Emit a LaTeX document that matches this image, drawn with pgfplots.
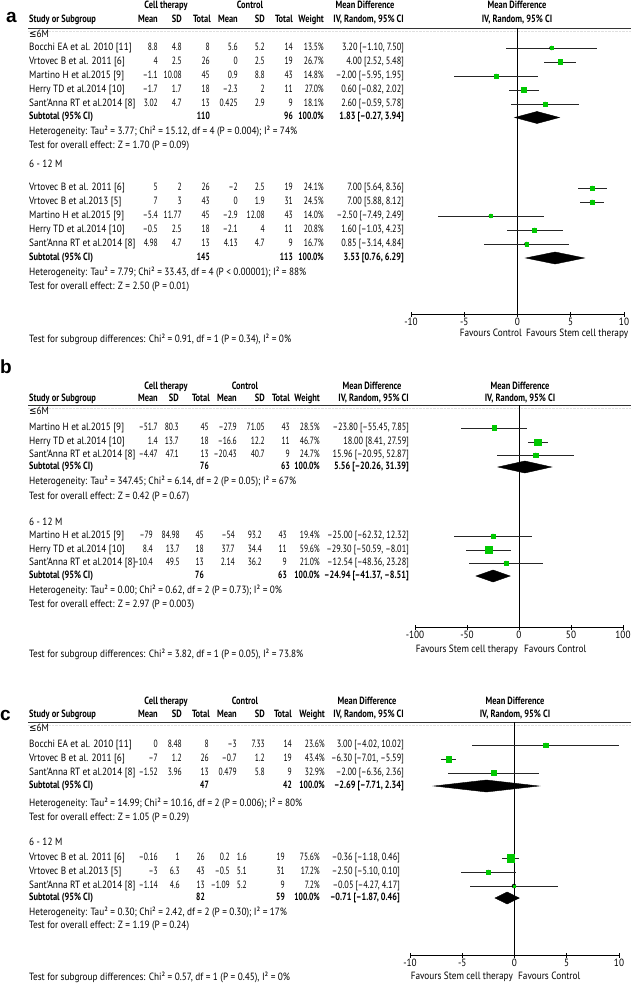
\documentclass[border=0pt]{standalone}
\usepackage{pgfplots}
\pgfplotsset{compat=1.18}
\usepackage{pgfplotstable}
\usepackage{fontspec}
\setmainfont{PT Sans}[FakeStretch=0.88]
\newfontfamily\numf{PT Sans}[FakeStretch=0.72]
\newfontfamily\cif{PT Sans}[FakeStretch=0.79]
\newfontfamily\hdf{PT Sans}[FakeStretch=0.8]
\newfontfamily\symf{DejaVu Sans}[FakeStretch=0.85]
\newfontfamily\panelf{Liberation Sans}
\definecolor{rmgreen}{RGB}{0,200,0}

% study rows: y (pixel row, negative), mean difference, CI, weight
\pgfplotstableread{
y md lo hi w
-48 3.20 -1.10 7.50 13.5
-62 4.00 2.52 5.48 26.7
-76 -2.00 -5.95 1.95 14.8
-90 0.60 -0.82 2.02 27.0
-104 2.60 -0.59 5.78 18.1
-188 7.00 5.64 8.36 24.1
-202 7.00 5.88 8.12 24.5
-216 -2.50 -7.49 2.49 14.0
-230 1.60 -1.03 4.23 20.8
-244 0.85 -3.14 4.84 16.7
}\studA
\pgfplotstableread{
y md lo hi w
-428 -23.80 -55.45 7.85 28.5
-442 18.00 8.41 27.59 46.7
-455 15.96 -20.95 52.87 24.7
-536 -25.00 -62.32 12.32 19.4
-550 -29.30 -50.59 -8.01 59.6
-563 -12.54 -48.36 23.28 21.0
}\studB
\pgfplotstableread{
y md lo hi w
-745 3.00 -4.02 10.02 23.6
-759 -6.30 -7.01 -5.59 43.4
-773 -2.00 -6.36 2.36 32.9
-858 -0.36 -1.18 0.46 75.6
-872 -2.50 -5.10 0.10 17.2
-886 -0.05 -4.27 4.17 7.2
}\studC

\newcommand\tf{\fontsize{10.5}{12}\selectfont}
\tikzset{t/.style={inner sep=0pt, font=\tf}, n/.style={inner sep=0pt, font=\tf\numf, anchor=mid east}}
\newcommand\cols[8]{\def\cA{#1}\def\cB{#2}\def\cC{#3}\def\cD{#4}\def\cE{#5}\def\cF{#6}\def\cG{#7}\def\cH{#8}}
\newcommand\row[9]{\def\lastY{#1}%
  \node[t, anchor=mid west] at (29,-#1) {#2};
  \node[n] at (\cA,-#1) {#3};
  \node[n] at (\cB,-#1) {#4};
  \node[n] at (\cC,-#1) {#5};
  \node[n] at (\cD,-#1) {#6};
  \node[n] at (\cE,-#1) {#7};
  \node[n] at (\cF,-#1) {#8};
  \node[n] at (\cG,-#1) {#9};}
\newcommand\ci[1]{\node[t, anchor=mid east] at (\cH,-\lastY) {\cif #1};}
\newcommand\sub[5]{%
  \node[t, anchor=mid west] at (29,-#1) {\hdf\bfseries Subtotal (95\% CI)};
  \node[n] at (\cC,-#1) {\bfseries #2};
  \node[n] at (\cF,-#1) {\bfseries #3};
  \node[n] at (\cG,-#1) {\bfseries #4};
  \node[t, anchor=mid east] at (\cH,-#1) {\cif\bfseries #5};}
\newcommand\note[2]{\node[t, anchor=mid west] at (29,-#1) {#2};}
% header: top row y, second row y, centres of the three spanning titles, centre of plot titles, rule y
\newcommand\header[7]{%
  \node[t, anchor=mid] at (#3,-#1) {\hdf\bfseries Cell therapy};
  \node[t, anchor=mid] at (#4,-#1) {\hdf\bfseries Control};
  \node[t, anchor=mid] at (#5,-#1) {\hdf\bfseries Mean Difference};
  \node[t, anchor=mid] at (#6,-#1) {\hdf\bfseries Mean Difference};
  \node[t, anchor=mid west] at (29,-#2) {\hdf\bfseries Study or Subgroup};
  \node[t, anchor=mid east] at (\cA,-#2) {\hdf\bfseries Mean};
  \node[t, anchor=mid east] at (\cB,-#2) {\hdf\bfseries SD};
  \node[t, anchor=mid east] at (\cC+1,-#2) {\hdf\bfseries Total};
  \node[t, anchor=mid east] at (\cD,-#2) {\hdf\bfseries Mean};
  \node[t, anchor=mid east] at (\cE,-#2) {\hdf\bfseries SD};
  \node[t, anchor=mid east] at (\cF,-#2) {\hdf\bfseries Total};
  \node[t, anchor=mid east] at (\cG,-#2) {\hdf\bfseries Weight};
  \node[t, anchor=mid east] at (\cH,-#2) {\hdf\bfseries IV, Random, 95\% CI};
  \node[t, anchor=mid] at (#6,-#2) {\hdf\bfseries IV, Random, 95\% CI};
  \draw[line width=0.8pt, black!80] (28,-#7) -- (631,-#7);
  \draw[line width=0.4pt, black!12, densely dotted] (28,-#7-3) -- (631,-#7-3);}

\pgfplotsset{forest/.style={scale only axis, anchor=south west,
  axis x line=bottom, axis y line=none, x axis line style={-, line width=0.6pt},
  tick align=center, major tick length=5pt, xtick style={black, line width=0.6pt},
  xticklabel style={font=\tf, inner sep=0pt, yshift=-1pt},
  /pgf/number format/assume math mode=true, clip=true},
  cibar/.style={only marks, mark=none, black, error bars/.cd, x dir=both, x explicit,
  error mark=none, error bar style={line width=0.8pt, black!85}},
  box/.style={scatter, only marks, mark=square*, point meta=explicit,
  scatter/use mapped color={draw=rmgreen, fill=rmgreen},
  visualization depends on={0.45*sqrt(\thisrow{w}) \as \msz},
  scatter/@pre marker code/.append style={/tikz/mark size=\msz}},
  zero/.style={black, line width=0.6pt},
  dia/.style={black, fill=black}}

\begin{document}
\begin{tikzpicture}[x=1pt, y=1pt]
\useasboundingbox (0,0) rectangle (631,-992);

% ---------------- panel a ----------------
\node[anchor=base west, inner sep=0pt, font=\panelf\fontsize{19}{20}\selectfont\bfseries] at (6,-23) {a};
\cols{158}{182}{210}{238}{265}{293}{324}{404}
\header{6}{20}{166}{250}{365}{517}{28}
\note{35}{{\symf ≤}6M}
\row{48}{Bocchi EA et al. 2010 [11]}{8.8}{4.8}{8}{5.6}{5.2}{14}{13.5\%}\ci{3.20 [–1.10, 7.50]}
\row{62}{Vrtovec B et al. 2011 [6]}{4}{2.5}{26}{0}{2.5}{19}{26.7\%}\ci{4.00 [2.52, 5.48]}
\row{76}{Martino H et al.2015 [9]}{–1.1}{10.08}{45}{0.9}{8.8}{43}{14.8\%}\ci{–2.00 [–5.95, 1.95]}
\row{90}{Herry TD et al.2014 [10]}{–1.7}{1.7}{18}{–2.3}{2}{11}{27.0\%}\ci{0.60 [–0.82, 2.02]}
\row{104}{Sant'Anna RT et al.2014 [8]}{3.02}{4.7}{13}{0.425}{2.9}{9}{18.1\%}\ci{2.60 [–0.59, 5.78]}
\sub{117.5}{110}{96}{100.0\%}{1.83 [–0.27, 3.94]}
\note{132}{Heterogeneity: Tau² = 3.77; Chi² = 15.12, df = 4 (P = 0.004); I² = 74\%}
\note{146}{Test for overall effect: Z = 1.70 (P = 0.09)}
\note{165}{6 - 12 M}
\row{188}{Vrtovec B et al. 2011 [6]}{5}{2}{26}{–2}{2.5}{19}{24.1\%}\ci{7.00 [5.64, 8.36]}
\row{202}{Vrtovec B et al.2013 [5]}{7}{3}{43}{0}{1.9}{31}{24.5\%}\ci{7.00 [5.88, 8.12]}
\row{216}{Martino H et al.2015 [9]}{–5.4}{11.77}{45}{–2.9}{12.08}{43}{14.0\%}\ci{–2.50 [–7.49, 2.49]}
\row{230}{Herry TD et al.2014 [10]}{–0.5}{2.5}{18}{–2.1}{4}{11}{20.8\%}\ci{1.60 [–1.03, 4.23]}
\row{244}{Sant'Anna RT et al.2014 [8]}{4.98}{4.7}{13}{4.13}{4.7}{9}{16.7\%}\ci{0.85 [–3.14, 4.84]}
\sub{258}{145}{113}{100.0\%}{3.53 [0.76, 6.29]}
\note{273}{Heterogeneity: Tau² = 7.79; Chi² = 33.43, df = 4 (P < 0.00001); I² = 88\%}
\note{287}{Test for overall effect: Z = 2.50 (P = 0.01)}
\note{340}{Test for subgroup differences: Chi² = 0.91, df = 1 (P = 0.34), I² = 0\%}
\node[t, anchor=mid east] at (522,-334) {Favours Control};
\node[t, anchor=mid west] at (526,-334) {Favours Stem cell therapy};

\begin{axis}[forest, at={(411pt,-314pt)}, width=213pt, height=286pt,
  xmin=-10, xmax=10, ymin=-314, ymax=-28, xtick={-10,-5,0,5,10}]
\addplot[zero] coordinates {(0,-28) (0,-314)};
\addplot[cibar] table[x=md, y=y, x error plus expr=\thisrow{hi}-\thisrow{md}, x error minus expr=\thisrow{md}-\thisrow{lo}] {\studA};
\addplot[box] table[x=md, y=y, meta=w] {\studA};
\addplot[dia] coordinates {(-0.27,-117.5) (1.83,-111.5) (3.94,-117.5) (1.83,-123.5)} --cycle;
\addplot[dia] coordinates {(0.76,-258) (3.53,-252) (6.29,-258) (3.53,-264)} --cycle;
\end{axis}

% ---------------- panel b ----------------
\node[anchor=base west, inner sep=0pt, font=\panelf\fontsize{19}{20}\selectfont\bfseries] at (0,-373) {b};
\cols{158}{179}{209}{237}{265}{290}{320}{409}
\header{387}{399}{166}{245}{372}{520}{405}
\note{412}{{\symf ≤}6M}
\row{428}{Martino H et al.2015 [9]}{–51.7}{80.3}{45}{–27.9}{71.05}{43}{28.5\%}\ci{–23.80 [–55.45, 7.85]}
\row{442}{Herry TD et al.2014 [10]}{1.4}{13.7}{18}{–16.6}{12.2}{11}{46.7\%}\ci{18.00 [8.41, 27.59]}
\row{455}{Sant'Anna RT et al.2014 [8]}{–4.47}{47.1}{13}{–20.43}{40.7}{9}{24.7\%}\ci{15.96 [–20.95, 52.87]}
\sub{467}{76}{63}{100.0\%}{5.56 [–20.26, 31.39]}
\note{482}{Heterogeneity: Tau² = 347.45; Chi² = 6.14, df = 2 (P = 0.05); I² = 67\%}
\note{497}{Test for overall effect: Z = 0.42 (P = 0.67)}
\note{523}{6 - 12 M}
\cols{153}{180}{204}{235}{262}{287}{320}{409}
\row{536}{Martino H et al.2015 [9]}{–79}{84.98}{45}{–54}{93.2}{43}{19.4\%}\ci{–25.00 [–62.32, 12.32]}
\row{550}{Herry TD et al.2014 [10]}{8.4}{13.7}{18}{37.7}{34.4}{11}{59.6\%}\ci{–29.30 [–50.59, –8.01]}
\row{563}{Sant'Anna RT et al.2014 [8]}{–10.4}{49.5}{13}{2.14}{36.2}{9}{21.0\%}\ci{–12.54 [–48.36, 23.28]}
\sub{576}{76}{63}{100.0\%}{–24.94 [–41.37, –8.51]}
\note{591}{Heterogeneity: Tau² = 0.00; Chi² = 0.62, df = 2 (P = 0.73); I² = 0\%}
\note{605}{Test for overall effect: Z = 2.97 (P = 0.003)}
\note{655}{Test for subgroup differences: Chi² = 3.82, df = 1 (P = 0.05), I² = 73.8\%}
\node[t, anchor=mid east] at (518,-650) {Favours Stem cell therapy};
\node[t, anchor=mid west] at (524,-650) {Favours Control};

\begin{axis}[forest, at={(415pt,-627pt)}, width=208pt, height=222pt,
  xmin=-100, xmax=100, ymin=-627, ymax=-405, xtick={-100,-50,0,50,100}]
\addplot[zero] coordinates {(0,-405) (0,-627)};
\addplot[cibar] table[x=md, y=y, x error plus expr=\thisrow{hi}-\thisrow{md}, x error minus expr=\thisrow{md}-\thisrow{lo}] {\studB};
\addplot[box] table[x=md, y=y, meta=w] {\studB};
\addplot[dia] coordinates {(-20.26,-467) (5.56,-461) (31.39,-467) (5.56,-473)} --cycle;
\addplot[dia] coordinates {(-41.37,-576) (-24.94,-570) (-8.51,-576) (-24.94,-582)} --cycle;
\end{axis}

% ---------------- panel c ----------------
\node[anchor=base west, inner sep=0pt, font=\panelf\fontsize{19}{20}\selectfont\bfseries] at (0,-720) {c};
\cols{158}{182}{209}{237}{265}{292}{325}{404}
\header{702}{715}{166}{245}{367}{515}{722}
\note{729}{{\symf ≤}6M}
\row{745}{Bocchi EA et al. 2010 [11]}{0}{8.48}{8}{–3}{7.33}{14}{23.6\%}\ci{3.00 [–4.02, 10.02]}
\row{759}{Vrtovec B et al. 2011 [6]}{–7}{1.2}{26}{–0.7}{1.2}{19}{43.4\%}\ci{–6.30 [–7.01, –5.59]}
\row{773}{Sant'Anna RT et al.2014 [8]}{–1.52}{3.96}{13}{0.479}{5.8}{9}{32.9\%}\ci{–2.00 [–6.36, 2.36]}
\sub{786}{47}{42}{100.0\%}{–2.69 [–7.71, 2.34]}
\note{804}{Heterogeneity: Tau² = 14.99; Chi² = 10.16, df = 2 (P = 0.006); I² = 80\%}
\note{818}{Test for overall effect: Z = 1.05 (P = 0.29)}
\note{843}{6 - 12 M}
\cols{158}{180}{205}{230}{247}{285}{320}{400}
\row{858}{Vrtovec B et al. 2011 [6]}{–0.16}{1}{26}{0.2}{1.6}{19}{75.6\%}\ci{–0.36 [–1.18, 0.46]}
\row{872}{Vrtovec B et al.2013 [5]}{–3}{6.3}{43}{–0.5}{5.1}{31}{17.2\%}\ci{–2.50 [–5.10, 0.10]}
\row{886}{Sant'Anna RT et al.2014 [8]}{–1.14}{4.6}{13}{–1.09}{5.2}{9}{7.2\%}\ci{–0.05 [–4.27, 4.17]}
\sub{898}{82}{59}{100.0\%}{–0.71 [–1.87, 0.46]}
\note{913}{Heterogeneity: Tau² = 0.30; Chi² = 2.42, df = 2 (P = 0.30); I² = 17\%}
\note{926}{Test for overall effect: Z = 1.19 (P = 0.24)}
\note{978}{Test for subgroup differences: Chi² = 0.57, df = 1 (P = 0.45), I² = 0\%}
\node[t, anchor=mid east] at (513,-977) {Favours Stem cell therapy};
\node[t, anchor=mid west] at (518,-977) {Favours Control};

\begin{axis}[forest, at={(410pt,-955pt)}, width=209pt, height=233pt,
  xmin=-10, xmax=10, ymin=-955, ymax=-722, xtick={-10,-5,0,5,10}]
\addplot[zero] coordinates {(0,-722) (0,-955)};
\addplot[cibar] table[x=md, y=y, x error plus expr=\thisrow{hi}-\thisrow{md}, x error minus expr=\thisrow{md}-\thisrow{lo}] {\studC};
\addplot[box] table[x=md, y=y, meta=w] {\studC};
\addplot[dia] coordinates {(-7.71,-786) (-2.69,-780) (2.34,-786) (-2.69,-792)} --cycle;
\addplot[dia] coordinates {(-1.87,-898) (-0.71,-892) (0.46,-898) (-0.71,-904)} --cycle;
\end{axis}
\end{tikzpicture}
\end{document}
